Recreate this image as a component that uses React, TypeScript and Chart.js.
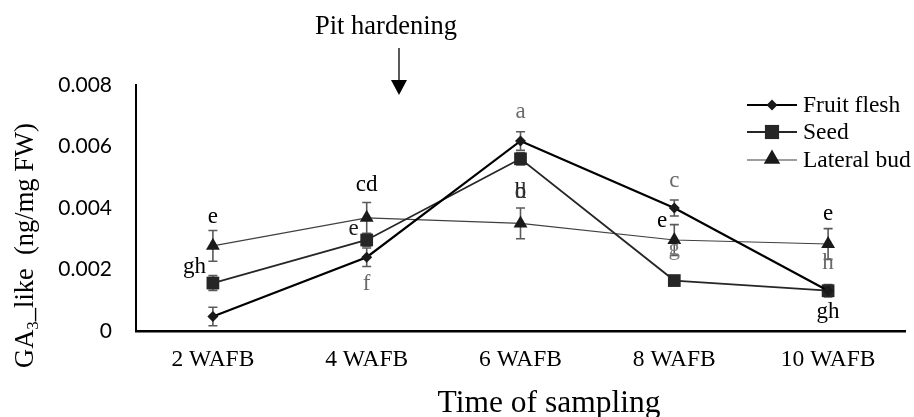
import React, { useEffect, useRef } from "react";
import { Chart, registerables } from "chart.js";

Chart.register(...registerables);

// ---------- data ----------
const CATEGORIES = ["2 WAFB", "4 WAFB", "6 WAFB", "8 WAFB", "10 WAFB"];
const Y_TICKS = [0, 0.002, 0.004, 0.006, 0.008];

const FRUIT_FLESH = [0.00047, 0.0024, 0.00618, 0.004, 0.00131];
const SEED = [0.00156, 0.00296, 0.0056, 0.00164, 0.00131];
const LATERAL_BUD = [0.00277, 0.00368, 0.0035, 0.00296, 0.00283];

const FRUIT_FLESH_ERR = [0.0003, 0.0003, 0.0003, 0.00026, 0.0001];
const SEED_ERR = [0.00024, 0.0002, 0.0002, 0.00005, 0.0002];
const LATERAL_BUD_ERR = [0.0005, 0.0005, 0.0005, 0.0005, 0.0005];

const FRUIT_FLESH_LETTERS = ["", "f", "a", "c", "h"];
const SEED_LETTERS = ["gh", "e", "b", "g", "gh"];
const LATERAL_BUD_LETTERS = ["e", "cd", "d", "e", "e"];

const X_TITLE = "Time of sampling";
const ANNOTATION_TEXT = "Pit hardening";
const ANNOTATION_AT = 1.21; // category position (between 4 and 6 WAFB)

// ---------- layout / style (not data) ----------
const FRUIT_LETTER_OFFSETS = [[0, 0], [0, 33], [0, -23], [0, -21], [0, -22]];
const SEED_LETTER_OFFSETS = [[-17, -10], [-18, -5], [0, 39], [0, -26], [0, 27]];
const LATERAL_LETTER_OFFSETS = [[0, -23], [0, -27], [0, -25], [-17, -13], [0, -24]];
const FRUIT_LETTER_COLORS = ["#6b6b6b", "#6b6b6b", "#6b6b6b", "#6b6b6b", "#6b6b6b"];
const SEED_LETTER_COLORS = ["#000", "#1a1a1a", "#1a1a1a", "#7a7a7a", "#000"];
const LATERAL_LETTER_COLORS = ["#000", "#000", "#333", "#000", "#000"];

const SERIF = "'Liberation Serif', 'Times New Roman', serif";

const SERIES = [
  {
    label: "Fruit flesh", values: FRUIT_FLESH, err: FRUIT_FLESH_ERR,
    letters: FRUIT_FLESH_LETTERS, offsets: FRUIT_LETTER_OFFSETS, letterColors: FRUIT_LETTER_COLORS,
    color: "#000000", fill: "#1a1a1a", width: 2.2, style: "rectRot", radius: 5.5,
  },
  {
    label: "Seed", values: SEED, err: SEED_ERR,
    letters: SEED_LETTERS, offsets: SEED_LETTER_OFFSETS, letterColors: SEED_LETTER_COLORS,
    color: "#262626", fill: "#262626", width: 1.8, style: "rect", radius: 9,
  },
  {
    label: "Lateral bud", values: LATERAL_BUD, err: LATERAL_BUD_ERR,
    letters: LATERAL_BUD_LETTERS, offsets: LATERAL_LETTER_OFFSETS, letterColors: LATERAL_LETTER_COLORS,
    color: "#404040", fill: "#1a1a1a", width: 1.2, style: "triangle", radius: 8,
  },
];

function drawMarker(ctx: CanvasRenderingContext2D, style: string, x: number, y: number, r: number) {
  ctx.beginPath();
  if (style === "rectRot") {
    ctx.moveTo(x - r, y);
    ctx.lineTo(x, y - r);
    ctx.lineTo(x + r, y);
    ctx.lineTo(x, y + r);
  } else if (style === "rect") {
    const s = r * Math.SQRT1_2;
    ctx.rect(x - s, y - s, 2 * s, 2 * s);
  } else {
    ctx.moveTo(x, y - r);
    ctx.lineTo(x + r * Math.sin((2 * Math.PI) / 3), y + r * 0.5);
    ctx.lineTo(x - r * Math.sin((2 * Math.PI) / 3), y + r * 0.5);
  }
  ctx.closePath();
  ctx.fill();
}

const errorBarsPlugin = {
  id: "errorBars",
  beforeDatasetsDraw(chart: any) {
    const { ctx, scales } = chart;
    const x = scales.x, y = scales.y;
    ctx.save();
    ctx.strokeStyle = "#5a5a5a";
    ctx.lineWidth = 1.6;
    SERIES.forEach((s) => {
      s.values.forEach((v, i) => {
        const px = x.getPixelForValue(i);
        const top = y.getPixelForValue(v + s.err[i]);
        const bot = y.getPixelForValue(v - s.err[i]);
        ctx.beginPath();
        ctx.moveTo(px, top);
        ctx.lineTo(px, bot);
        ctx.moveTo(px - 4.5, top);
        ctx.lineTo(px + 4.5, top);
        ctx.moveTo(px - 4.5, bot);
        ctx.lineTo(px + 4.5, bot);
        ctx.stroke();
      });
    });
    ctx.restore();
  },
};

const lettersPlugin = {
  id: "letters",
  afterDatasetsDraw(chart: any) {
    const { ctx, scales } = chart;
    const x = scales.x, y = scales.y;
    ctx.save();
    ctx.font = `23px ${SERIF}`;
    ctx.textBaseline = "alphabetic";
    SERIES.forEach((s) => {
      s.letters.forEach((t, i) => {
        if (!t) return;
        const px = x.getPixelForValue(i) + s.offsets[i][0];
        const py = y.getPixelForValue(s.values[i]) + s.offsets[i][1];
        ctx.fillStyle = s.letterColors[i];
        ctx.textAlign = s.offsets[i][0] < 0 ? "right" : "center";
        ctx.fillText(t, s.offsets[i][0] < 0 ? px + 10 : px, py);
      });
    });
    ctx.restore();
  },
};

const decorPlugin = {
  id: "decor",
  afterDraw(chart: any) {
    const { ctx, scales } = chart;
    const x = scales.x;
    ctx.save();

    // legend
    const rows = [105, 132, 160];
    SERIES.forEach((s, i) => {
      const yy = rows[i];
      ctx.strokeStyle = s.color;
      ctx.lineWidth = s.width;
      ctx.beginPath();
      ctx.moveTo(747, yy);
      ctx.lineTo(797, yy);
      ctx.stroke();
      ctx.fillStyle = s.fill;
      const r = s.style === "rectRot" ? 5.5 : s.style === "rect" ? 10 : 9.5;
      drawMarker(ctx, s.style, 772, s.style === "triangle" ? yy - 1 : yy, r);
      ctx.fillStyle = "#000";
      ctx.font = `23.5px ${SERIF}`;
      ctx.textAlign = "left";
      ctx.textBaseline = "middle";
      ctx.fillText(s.label, 803, yy + 1);
    });

    // annotation arrow
    const ax = x.getPixelForValue(ANNOTATION_AT);
    ctx.strokeStyle = "#000";
    ctx.lineWidth = 1.3;
    ctx.beginPath();
    ctx.moveTo(ax, 48);
    ctx.lineTo(ax, 82);
    ctx.stroke();
    ctx.fillStyle = "#000";
    ctx.beginPath();
    ctx.moveTo(ax - 8, 80);
    ctx.lineTo(ax + 8, 80);
    ctx.lineTo(ax, 95);
    ctx.closePath();
    ctx.fill();
    ctx.font = `26.5px ${SERIF}`;
    ctx.textAlign = "center";
    ctx.textBaseline = "alphabetic";
    ctx.fillText(ANNOTATION_TEXT, ax - 13, 34);

    // x-axis title
    ctx.font = `31.5px ${SERIF}`;
    ctx.textAlign = "center";
    ctx.fillText(X_TITLE, 549, 412);

    // y-axis title with subscript
    ctx.translate(33, 368);
    ctx.rotate(-Math.PI / 2);
    ctx.textAlign = "left";
    ctx.textBaseline = "alphabetic";
    let cx = 0;
    ctx.font = `26.5px ${SERIF}`;
    ctx.fillText("GA", cx, 0);
    cx += ctx.measureText("GA").width;
    ctx.font = `17px ${SERIF}`;
    ctx.fillText("3", cx, 5);
    cx += ctx.measureText("3").width;
    ctx.font = `26.5px ${SERIF}`;
    ctx.fillText("_like  (ng/mg FW)", cx, 0);

    ctx.restore();
  },
};

export default function App() {
  const canvasRef = useRef<HTMLCanvasElement | null>(null);

  useEffect(() => {
    const canvas = canvasRef.current;
    if (!canvas) return;
    const chart = new Chart(canvas, {
      type: "line",
      data: {
        labels: CATEGORIES,
        datasets: SERIES.map((s) => ({
          label: s.label,
          data: s.values,
          borderColor: s.color,
          borderWidth: s.width,
          backgroundColor: s.fill,
          pointBackgroundColor: s.fill,
          pointBorderColor: s.fill,
          pointBorderWidth: 0,
          pointStyle: s.style as any,
          pointRadius: s.radius,
          pointHoverRadius: s.radius,
          tension: 0,
          fill: false,
        })),
      },
      options: {
        responsive: false,
        animation: false,
        devicePixelRatio: 1,
        layout: { padding: { top: 85, right: 1, bottom: 0, left: 0 } },
        plugins: {
          legend: { display: false },
          tooltip: { enabled: false },
          title: { display: false },
        },
        scales: {
          x: {
            type: "category",
            offset: true,
            grid: { display: false, drawTicks: false },
            border: { display: true, color: "#000", width: 2.5 },
            ticks: {
              color: "#000",
              padding: 15,
              font: { family: SERIF, size: 23.5 },
              maxRotation: 0,
            },
            title: { display: false },
            afterFit: (scale: any) => {
              scale.height = 86;
            },
          },
          y: {
            min: 0,
            max: 0.008,
            grid: { display: false, drawTicks: false },
            border: { display: true, color: "#000", width: 2 },
            afterBuildTicks: (scale: any) => {
              scale.ticks = Y_TICKS.map((v) => ({ value: v }));
            },
            ticks: {
              color: "#000",
              padding: 24,
              font: { family: "Lato", size: 21 },
              callback: (v: any) => (Number(v) === 0 ? "0" : Number(v).toFixed(3)),
            },
            afterFit: (scale: any) => {
              scale.width = 136;
            },
          },
        },
      },
      plugins: [errorBarsPlugin, lettersPlugin, decorPlugin],
    });
    return () => chart.destroy();
  }, []);

  return (
    <div style={{ position: "fixed", left: 0, top: 0, width: 914, height: 417, background: "#fff" }}>
      <canvas ref={canvasRef} width={914} height={417} style={{ display: "block" }} />
    </div>
  );
}
